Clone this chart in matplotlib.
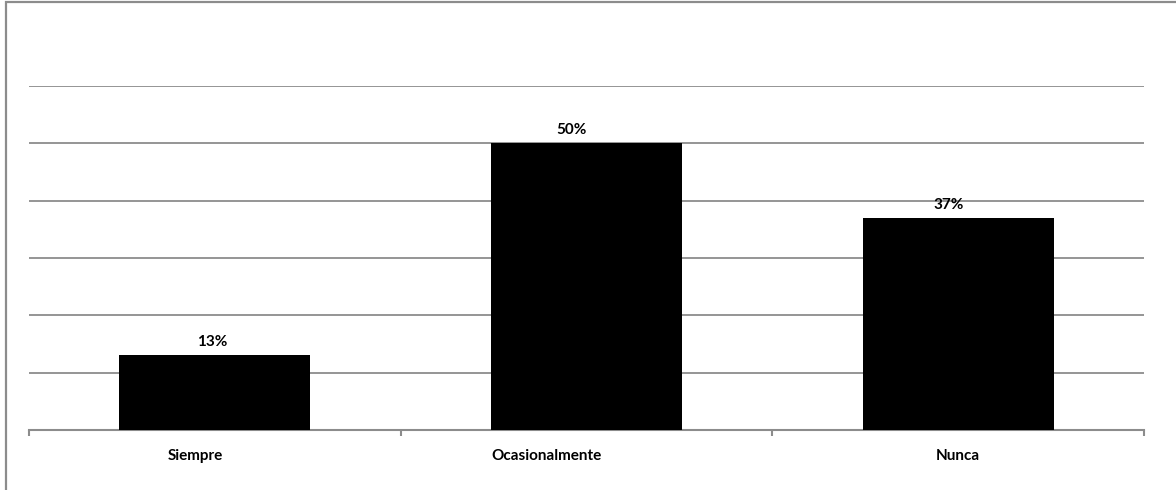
import matplotlib.pyplot as plt
from matplotlib.patches import Rectangle
from matplotlib.transforms import offset_copy

# Datos de la encuesta
categorias = ['Siempre', 'Ocasionalmente', 'Nunca']
porcentajes = [13, 50, 37]
etiquetas = ['13%', '50%', '37%']

# desplazamiento horizontal (px) de los textos
desp_cat = [-20, -40, 0]
desp_val = [-3, -15, -10]

fig = plt.figure(figsize=(11.76, 4.9), dpi=100)
ax = fig.add_axes([29 / 1176, 60 / 490, 1115 / 1176, 344 / 490])

gris = '#8c8c8c'
x = list(range(len(categorias)))
ax.bar(x, porcentajes, width=0.514, color='black', zorder=3)

ax.set_xlim(-0.5, len(categorias) - 0.5)
ax.set_ylim(0, 60)
ax.set_yticks(range(0, 61, 10))
ax.yaxis.grid(True, color=gris, linewidth=1.3)
ax.set_axisbelow(True)
ax.tick_params(axis='y', left=False, labelleft=False)

for lado in ['top', 'right', 'left']:
    ax.spines[lado].set_visible(False)
ax.spines['bottom'].set_color(gris)
ax.spines['bottom'].set_linewidth(1.5)

# marcas entre categorias
ax.set_xticks([i - 0.5 for i in range(len(categorias) + 1)])
ax.set_xticklabels([])
ax.tick_params(axis='x', direction='out', length=4, width=1.5, color=gris)

for i, cat in enumerate(categorias):
    tr = offset_copy(ax.transData, fig=fig, x=desp_cat[i], y=0, units='dots')
    ax.text(i, -3.4, cat, transform=tr, ha='center', va='top',
            fontsize=11, fontweight='bold', family='Lato')
for i, (v, t) in enumerate(zip(porcentajes, etiquetas)):
    tr = offset_copy(ax.transData, fig=fig, x=desp_val[i], y=0, units='dots')
    ax.text(i, v + 1.1, t, transform=tr, ha='center', va='bottom',
            fontsize=11, fontweight='bold', family='Lato')

# borde del grafico
fig.patches.append(Rectangle((6 / 1176, -0.1), 1.2, (488 / 490) + 0.1,
                             transform=fig.transFigure, fill=False,
                             edgecolor=gris, linewidth=1.6))

fig.savefig('out.png', dpi=100)
